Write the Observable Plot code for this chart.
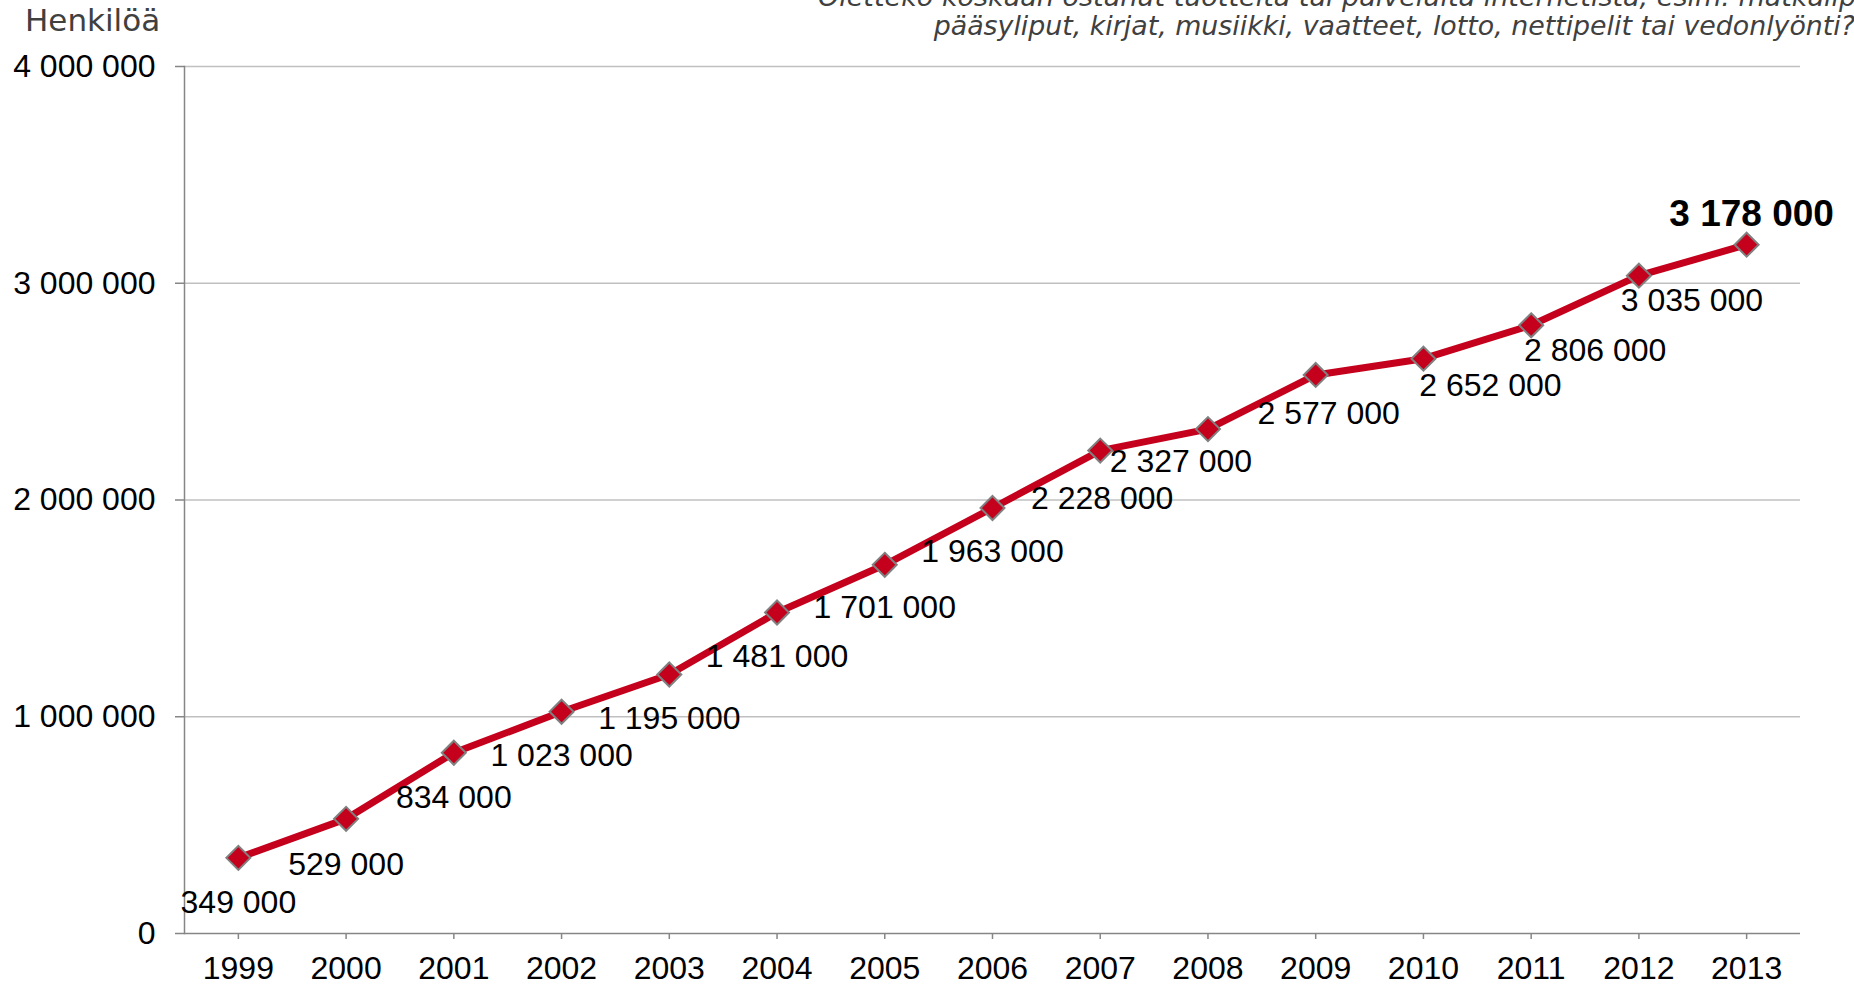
<!DOCTYPE html>
<html>
<head>
<meta charset="utf-8">
<script src="https://cdn.jsdelivr.net/npm/d3@7"></script>
<script src="https://cdn.jsdelivr.net/npm/@observablehq/plot@0.6"></script>
<style>
  html, body { margin: 0; padding: 0; background: #fff; }
  #wrap { position: relative; width: 1854px; height: 987px; overflow: hidden; }
  #overlay { position: absolute; left: 0; top: 0; pointer-events: none; }
</style>
</head>
<body>
<div id="wrap"></div>
<script>
// ---- data ----
const years = ["1999","2000","2001","2002","2003","2004","2005","2006","2007","2008","2009","2010","2011","2012","2013"];
const buyers = [349000, 529000, 834000, 1023000, 1195000, 1481000, 1701000, 1963000, 2228000, 2327000, 2577000, 2652000, 2806000, 3035000, 3178000];
const yTicks = [0, 1000000, 2000000, 3000000, 4000000];
const yAxisLabel = "Henkilöä";
const titleLines = [
  "Oletteko koskaan ostanut tuotteita tai palveluita internetistä, esim. matkaliput,",
  "pääsyliput, kirjat, musiikki, vaatteet, lotto, nettipelit tai vedonlyönti?"
];

// ---- layout (label nudges, not data) ----
const labelDx = [0, 0, 0, 0, 0, 0, 0, 0, 2, -27, 13, 67, 64, 53, 5];
const labelDy = [45, 46, 45, 44, 44, 44, 43, 44, 48, 33, 39, 27, 25, 25, -31];

const fmt = v => d3.format(",")(v).replace(/,/g, " ");
const rows = years.map((y, i) => ({year: y, value: buyers[i], i}));

const RED = "#C4001C";
const AXIS = "#868686";
const font = "'Liberation Sans', Arial, sans-serif";

const labelMarks = rows.map((d, i) => Plot.text([d], {
  x: "year", y: "value", text: r => fmt(r.value),
  dx: labelDx[i], dy: labelDy[i],
  fontSize: i === rows.length - 1 ? 37 : 32,
  fontWeight: i === rows.length - 1 ? "bold" : "normal",
  fill: "#000"
}));

const chart = Plot.plot({
  width: 1854,
  height: 987,
  marginLeft: 184,
  marginRight: 54,
  marginTop: 66,
  marginBottom: 54,
  style: {fontFamily: font, fontSize: "32px", color: "#000", background: "#fff"},
  x: {type: "point", domain: years, padding: 0.5, round: false},
  y: {domain: [0, 4000000]},
  marks: [
    Plot.gridY(yTicks.filter(t => t > 0), {stroke: "#c0c0c0", strokeOpacity: 1, strokeWidth: 1.5}),
    Plot.axisY({ticks: yTicks, tickFormat: fmt, tickSize: 9, tickPadding: 20, stroke: AXIS, strokeWidth: 1.5, fontSize: 32, label: null}),
    Plot.axisX({tickSize: 6, tickPadding: 17, stroke: AXIS, strokeWidth: 1.5, fontSize: 32, label: null}),
    Plot.frame({anchor: "left", stroke: AXIS, strokeWidth: 1.5}),
    Plot.ruleY([0], {stroke: AXIS, strokeWidth: 1.5}),
    Plot.line(rows, {x: "year", y: "value", stroke: RED, strokeWidth: 7}),
    Plot.dot(rows, {x: "year", y: "value", symbol: "diamond2", r: 10.8, fill: RED, stroke: "#808080", strokeWidth: 2}),
    ...labelMarks
  ]
});
const wrap = document.getElementById("wrap");
wrap.appendChild(chart);

// overlay texts (axis title and question)
const ov = d3.select(wrap).append("svg")
  .attr("id", "overlay").attr("width", 1854).attr("height", 987);
ov.append("text").text(yAxisLabel)
  .attr("x", 25).attr("y", 31)
  .attr("font-family", "'DejaVu Sans', Verdana, sans-serif")
  .attr("font-size", 31).attr("fill", "#404040");
ov.append("text").text(titleLines[0])
  .attr("x", 818).attr("y", 6)
  .attr("font-family", "'DejaVu Sans', Verdana, sans-serif")
  .attr("font-style", "italic")
  .attr("font-size", 27).attr("fill", "#404040");
ov.append("text").text(titleLines[1])
  .attr("x", 1855).attr("y", 35).attr("text-anchor", "end")
  .attr("font-family", "'DejaVu Sans', Verdana, sans-serif")
  .attr("font-style", "italic")
  .attr("font-size", 26.8).attr("fill", "#404040");
</script>
</body>
</html>
